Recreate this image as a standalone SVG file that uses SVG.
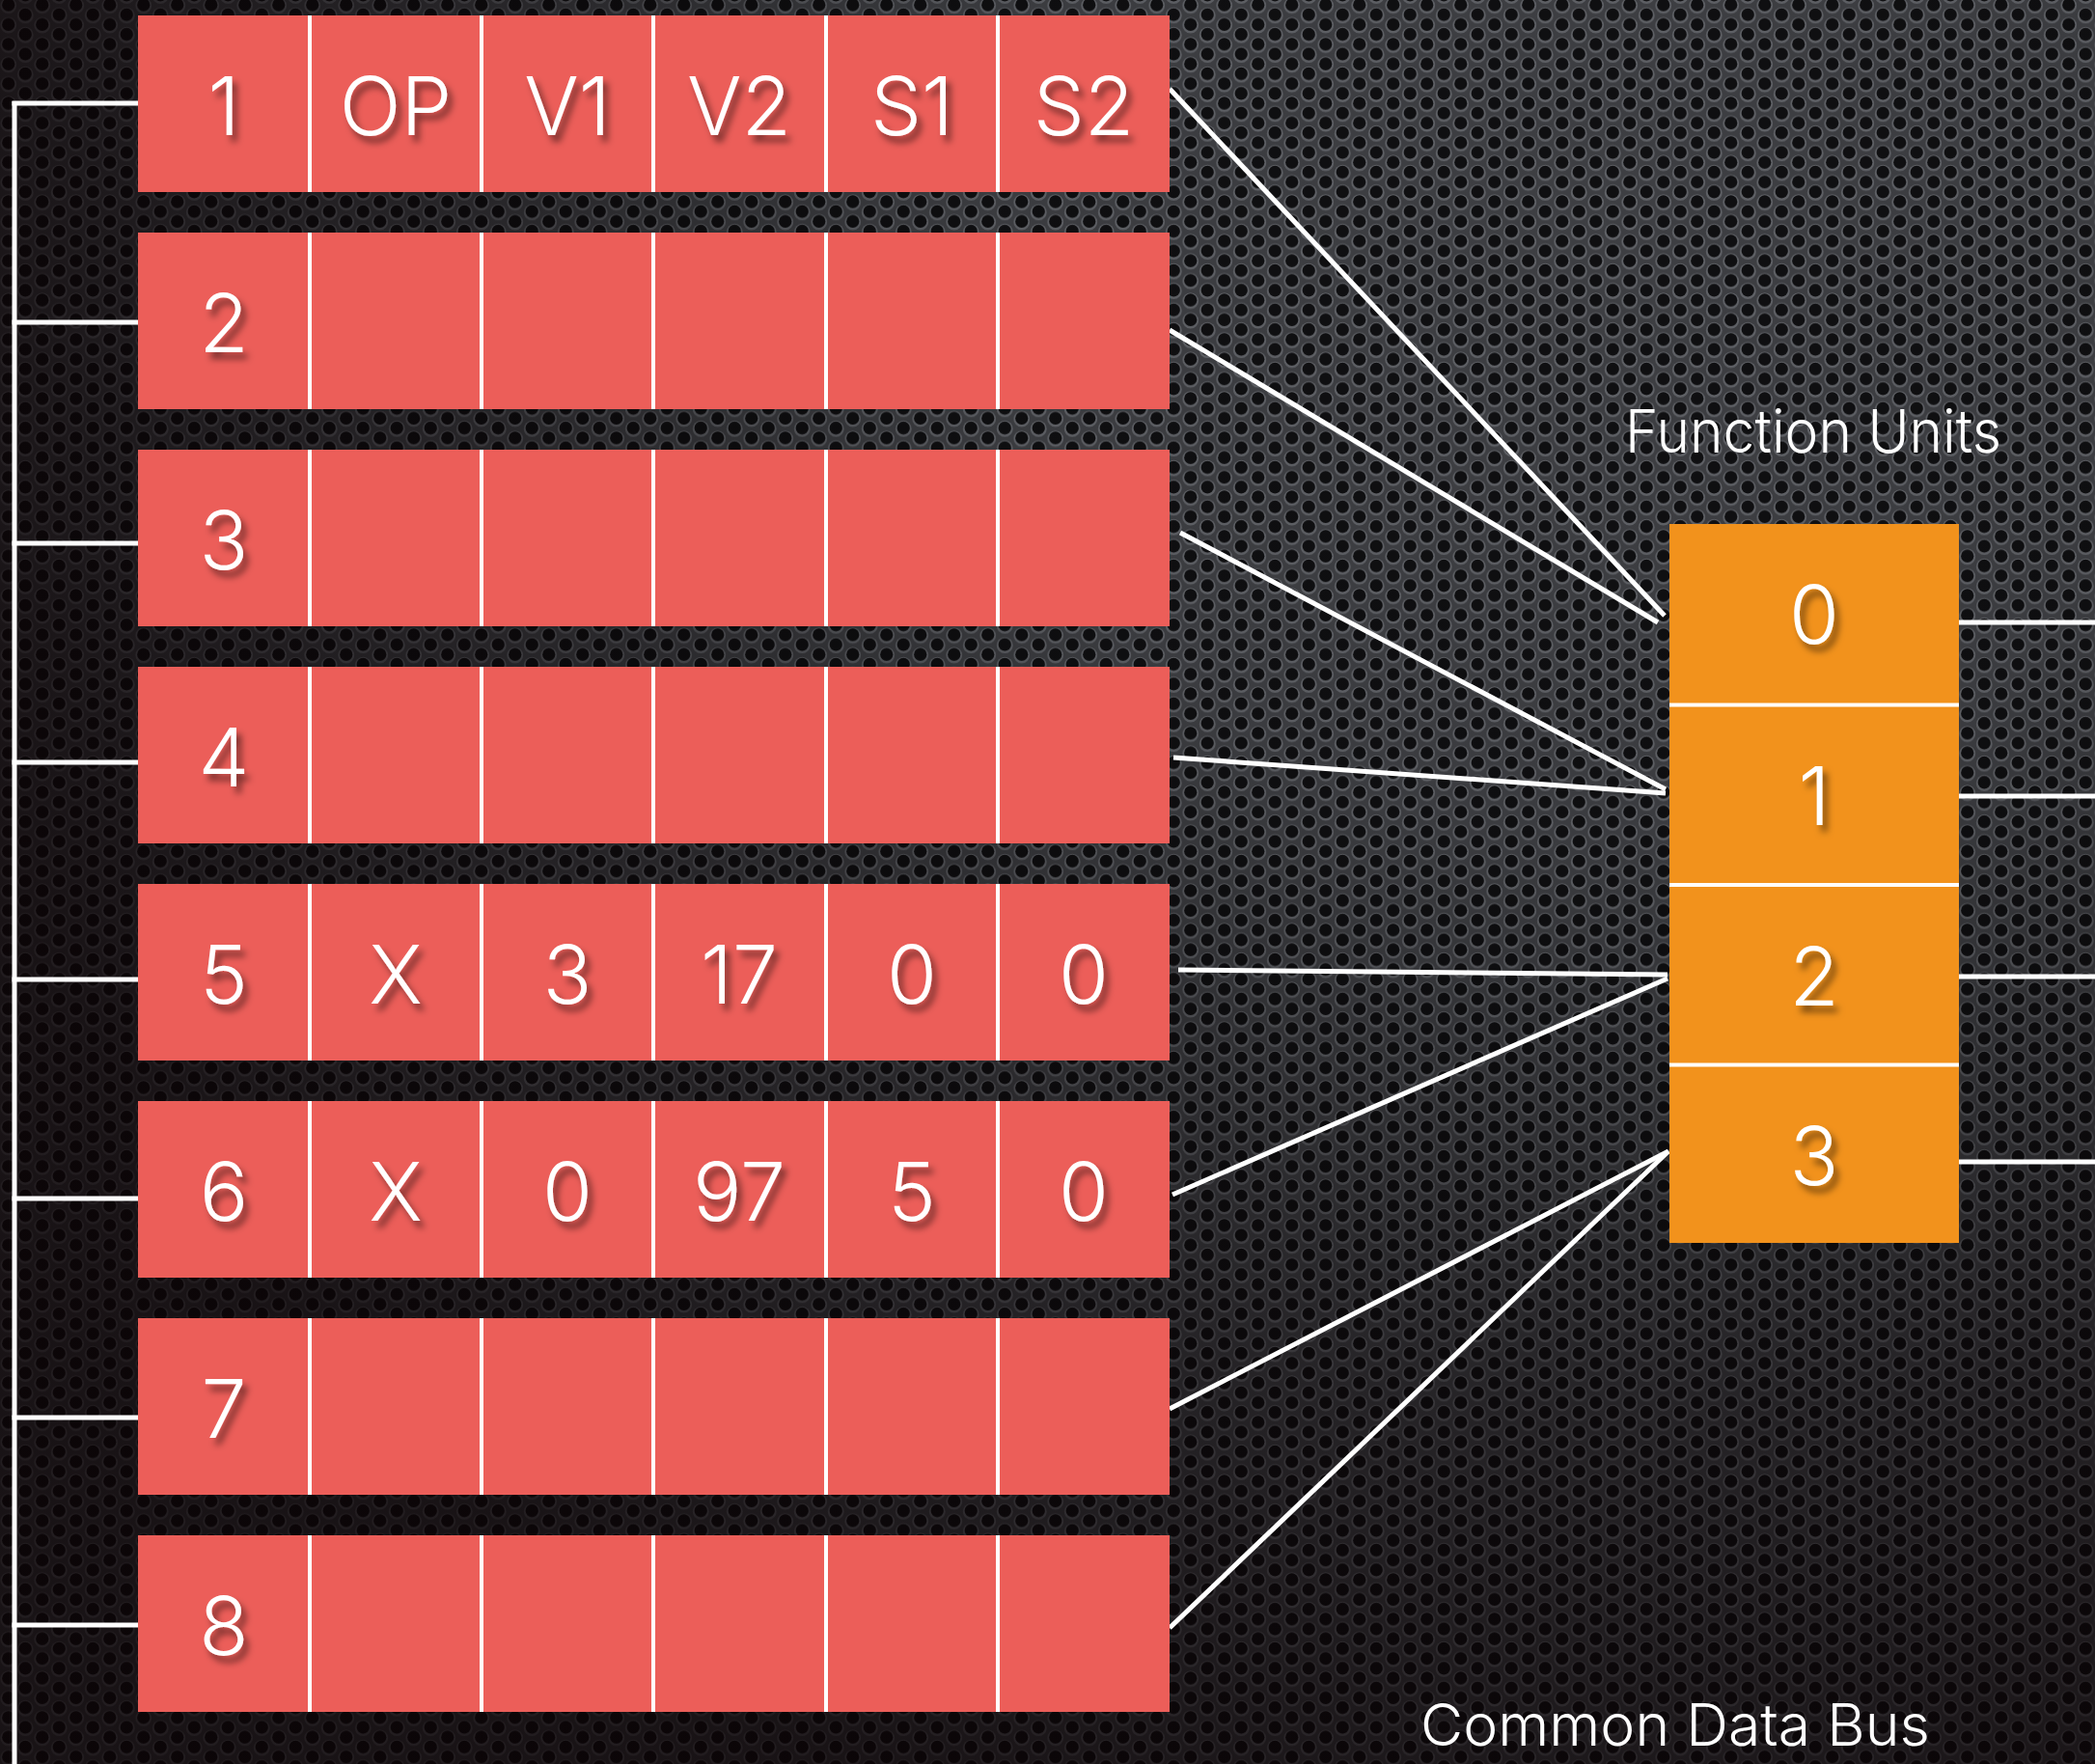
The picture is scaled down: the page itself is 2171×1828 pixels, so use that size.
<svg xmlns="http://www.w3.org/2000/svg" width="2171" height="1828" viewBox="0 0 2171 1828">
  <defs>
    <!-- perforated metal backdrop -->
    <pattern id="holes" width="35" height="20.4" patternUnits="userSpaceOnUse">
      <rect width="35" height="20.4" fill="#3e3f43"/>
      <g fill="#606267">
        <circle cx="8.75" cy="5.8" r="8.4"/>
        <circle cx="8.75" cy="26.2" r="8.4"/>
        <circle cx="26.25" cy="16" r="8.4"/>
        <circle cx="26.25" cy="-4.4" r="8.4"/>
      </g>
      <g fill="#0f0f11">
        <circle cx="8.75" cy="5" r="6.6"/>
        <circle cx="8.75" cy="25.4" r="6.6"/>
        <circle cx="26.25" cy="15.2" r="6.6"/>
        <circle cx="26.25" cy="-5.2" r="6.6"/>
      </g>
    </pattern>
    <radialGradient id="shade" cx="1650" cy="250" r="1750" gradientUnits="userSpaceOnUse">
      <stop offset="0" stop-color="#000" stop-opacity="0"/>
      <stop offset="0.35" stop-color="#000" stop-opacity="0.05"/>
      <stop offset="0.7" stop-color="#070103" stop-opacity="0.45"/>
      <stop offset="1" stop-color="#0a0204" stop-opacity="0.72"/>
    </radialGradient>
    <filter id="txtShadow" x="-30%" y="-30%" width="160%" height="160%">
      <feDropShadow dx="5" dy="7" stdDeviation="3.5" flood-color="#000" flood-opacity="0.5"/>
    </filter>
    <style>
      .cell { fill: #ec5e59; }
      .fu { fill: #f2921c; }
      .sep { stroke: #fff; stroke-width: 4; fill: none; }
      .wire { stroke: #fff; stroke-width: 5; fill: none; stroke-linecap: butt; }
      .lbl { font-family: "Helvetica Neue", "Inter", "Roboto", "Liberation Sans", sans-serif; font-weight: 300; font-size: 84px; fill: #fff; text-anchor: middle; }
      .cap { font-family: "Helvetica Neue", "Inter", "Roboto", "Liberation Sans", sans-serif; font-weight: 300; fill: #fff; }
    </style>
  </defs>

  <rect width="2171" height="1828" fill="url(#holes)"/>
  <rect width="2171" height="1828" fill="url(#shade)"/>

  <!-- wiring: bus on the left, fan-in to the function units, outputs on the right -->
  <g id="connectors" class="wire">
    <path d="M15 105 V1828"/>
    <path d="M12.5 107 H143"/>
    <path d="M12.5 334 H143"/>
    <path d="M12.5 563 H143"/>
    <path d="M12.5 790 H143"/>
    <path d="M12.5 1015 H143"/>
    <path d="M12.5 1242 H143"/>
    <path d="M12.5 1469 H143"/>
    <path d="M12.5 1684 H143"/>

    <path d="M1212 92 L1725 638"/>
    <path d="M1212 342 L1718 645"/>
    <path d="M1223 552 L1726 818"/>
    <path d="M1216 785 L1726 822"/>
    <path d="M1221 1005 L1728 1010"/>
    <path d="M1215 1238 L1728 1014"/>
    <path d="M1212 1460 L1729 1193"/>
    <path d="M1212 1687 L1729 1193"/>

    <path d="M2030 645 H2171"/>
    <path d="M2030 825 H2171"/>
    <path d="M2030 1012 H2171"/>
    <path d="M2030 1204 H2171"/>
  </g>

  <!-- reservation station rows -->
  <g id="rs1" transform="translate(0,16)">
    <rect class="cell" x="143" y="0" width="1069" height="183"/>
    <path class="sep" d="M321 0V183M499 0V183M677 0V183M856 0V183M1034 0V183"/>
    <g class="lbl" filter="url(#txtShadow)">
      <text x="232" y="124">1</text><text x="410" y="124">OP</text><text x="588" y="124">V1</text>
      <text x="766" y="124">V2</text><text x="945" y="124">S1</text><text x="1123" y="124">S2</text>
    </g>
  </g>
  <g id="rs2" transform="translate(0,241)">
    <rect class="cell" x="143" y="0" width="1069" height="183"/>
    <path class="sep" d="M321 0V183M499 0V183M677 0V183M856 0V183M1034 0V183"/>
    <g class="lbl" filter="url(#txtShadow)"><text x="232" y="124">2</text></g>
  </g>
  <g id="rs3" transform="translate(0,466)">
    <rect class="cell" x="143" y="0" width="1069" height="183"/>
    <path class="sep" d="M321 0V183M499 0V183M677 0V183M856 0V183M1034 0V183"/>
    <g class="lbl" filter="url(#txtShadow)"><text x="232" y="124">3</text></g>
  </g>
  <g id="rs4" transform="translate(0,691)">
    <rect class="cell" x="143" y="0" width="1069" height="183"/>
    <path class="sep" d="M321 0V183M499 0V183M677 0V183M856 0V183M1034 0V183"/>
    <g class="lbl" filter="url(#txtShadow)"><text x="232" y="124">4</text></g>
  </g>
  <g id="rs5" transform="translate(0,916)">
    <rect class="cell" x="143" y="0" width="1069" height="183"/>
    <path class="sep" d="M321 0V183M499 0V183M677 0V183M856 0V183M1034 0V183"/>
    <g class="lbl" filter="url(#txtShadow)">
      <text x="232" y="124">5</text><text x="410" y="124">X</text><text x="588" y="124">3</text>
      <text x="766" y="124">17</text><text x="945" y="124">0</text><text x="1123" y="124">0</text>
    </g>
  </g>
  <g id="rs6" transform="translate(0,1141)">
    <rect class="cell" x="143" y="0" width="1069" height="183"/>
    <path class="sep" d="M321 0V183M499 0V183M677 0V183M856 0V183M1034 0V183"/>
    <g class="lbl" filter="url(#txtShadow)">
      <text x="232" y="124">6</text><text x="410" y="124">X</text><text x="588" y="124">0</text>
      <text x="766" y="124">97</text><text x="945" y="124">5</text><text x="1123" y="124">0</text>
    </g>
  </g>
  <g id="rs7" transform="translate(0,1366)">
    <rect class="cell" x="143" y="0" width="1069" height="183"/>
    <path class="sep" d="M321 0V183M499 0V183M677 0V183M856 0V183M1034 0V183"/>
    <g class="lbl" filter="url(#txtShadow)"><text x="232" y="124">7</text></g>
  </g>
  <g id="rs8" transform="translate(0,1591)">
    <rect class="cell" x="143" y="0" width="1069" height="183"/>
    <path class="sep" d="M321 0V183M499 0V183M677 0V183M856 0V183M1034 0V183"/>
    <g class="lbl" filter="url(#txtShadow)"><text x="232" y="124">8</text></g>
  </g>

  <!-- function unit stack -->
  <g id="function-units">
    <rect class="fu" x="1730" y="543" width="300" height="745"/>
    <path class="sep" d="M1730 730.5H2030M1730 917H2030M1730 1103.5H2030"/>
    <g class="lbl" filter="url(#txtShadow)">
      <text x="1880" y="667">0</text>
      <text x="1880" y="855">1</text>
      <text x="1880" y="1042">2</text>
      <text x="1880" y="1228">3</text>
    </g>
  </g>

  <g id="title-fu"><text class="cap" x="1684" y="469" font-size="62" textLength="390" lengthAdjust="spacingAndGlyphs">Function Units</text></g>
  <g id="title-cdb"><text class="cap" x="1472" y="1809" font-size="60" textLength="528" lengthAdjust="spacingAndGlyphs">Common Data Bus</text></g>
</svg>
